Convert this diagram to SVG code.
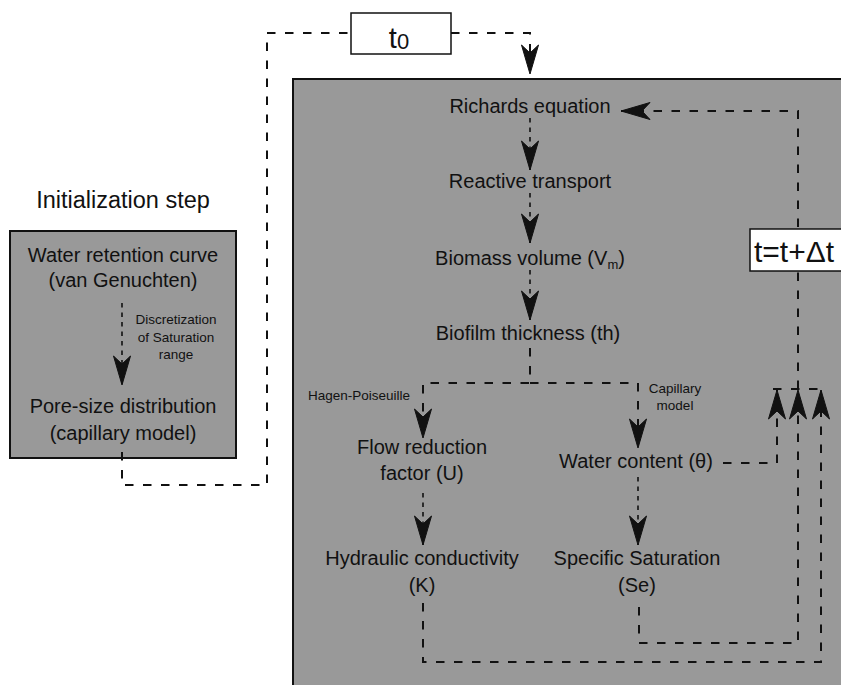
<svg xmlns="http://www.w3.org/2000/svg" width="841" height="685" viewBox="0 0 841 685">
<defs>
<style>
text{font-family:"Liberation Sans",Arial,sans-serif;fill:#111;}
.n{font-size:20px;text-anchor:middle;}
.s{font-size:13.5px;text-anchor:middle;}
.panel{fill:#999999;stroke:#111;stroke-width:2;}
.tbox{fill:#ffffff;stroke:#111;stroke-width:1.5;}
.c{fill:none;stroke:#111;stroke-width:2;stroke-dasharray:8.5 9.5;}
.cs{fill:none;stroke:#111;stroke-width:1.6;stroke-dasharray:4.5 5;}
</style>
<marker id="ah" viewBox="-30 -10 31 20" markerWidth="31" markerHeight="20" refX="0" refY="0" orient="auto" markerUnits="userSpaceOnUse">
<path d="M0,0 L-29,-8.5 L-21,0 L-29,8.5 Z" fill="#111" stroke="#111" stroke-width="1" stroke-linejoin="round"/>
</marker>
</defs>

<g id="main-panel"><rect class="panel" x="293" y="79" width="560" height="620"/></g>
<g id="init-panel"><rect class="panel" x="10" y="231" width="226" height="227"/></g>
<text x="123" y="208" style="font-size:23.5px;text-anchor:middle">Initialization step</text>

<g id="connectors">
<path class="c" d="M122,452 V485 H267 V33 H351"/>
<path class="c" d="M451,33 H530 V74" marker-end="url(#ah)"/>
<path class="cs" d="M122,303 V385" marker-end="url(#ah)"/>
<path class="cs" d="M530,118 V170" marker-end="url(#ah)"/>
<path class="cs" d="M530,193 V243" marker-end="url(#ah)"/>
<path class="cs" d="M530,270 V320" marker-end="url(#ah)"/>
<path class="c" d="M530,348 V383 H423 V438" marker-end="url(#ah)"/>
<path class="c" d="M530,383 H638 V448" marker-end="url(#ah)"/>
<path class="cs" d="M423,493 V545" marker-end="url(#ah)"/>
<path class="cs" d="M638,477 V545" marker-end="url(#ah)"/>
<path class="c" d="M723,463 H777 V390" marker-end="url(#ah)"/>
<path class="c" d="M639,607 V643 H798 V390" marker-end="url(#ah)"/>
<path class="c" d="M423,603 V662 H821 V390" marker-end="url(#ah)"/>
<path class="c" d="M773,389 H826"/>
<path class="c" d="M798,389 V111 H621" marker-end="url(#ah)"/>
</g>

<g id="t0"><rect class="tbox" x="351" y="13" width="100" height="41"/><text x="399" y="48" style="font-size:29px;text-anchor:middle">t<tspan dy="1" style="font-size:22px">0</tspan></text></g>
<g id="dt"><rect class="tbox" x="750" y="229" width="100" height="42"/><text x="754" y="262" style="font-size:30px">t=t+Δt</text></g>

<g id="water-retention"><text class="n" x="123" y="262">Water retention curve</text><text class="n" x="123" y="287">(van Genuchten)</text></g>
<g id="discretization-label"><text class="s" x="176" y="324">Discretization</text><text class="s" x="176" y="342">of Saturation</text><text class="s" x="176" y="359">range</text></g>
<g id="pore-size"><text class="n" x="123" y="413">Pore-size distribution</text><text class="n" x="123" y="440">(capillary model)</text></g>

<g id="richards"><text class="n" x="530" y="113">Richards equation</text></g>
<g id="reactive"><text class="n" x="530" y="188">Reactive transport</text></g>
<g id="biomass"><text class="n" x="530" y="265">Biomass volume (V<tspan dy="4" style="font-size:13px">m</tspan><tspan dy="-4">)</tspan></text></g>
<g id="biofilm"><text class="n" x="528" y="340">Biofilm thickness (th)</text></g>
<g id="hagen-label"><text class="s" x="359" y="400">Hagen-Poiseuille</text></g>
<g id="capillary-label"><text class="s" x="675" y="393">Capillary</text><text class="s" x="675" y="410">model</text></g>
<g id="flow-reduction"><text class="n" x="422" y="454">Flow reduction</text><text class="n" x="422" y="480">factor (U)</text></g>
<g id="water-content"><text class="n" x="636" y="468">Water content (θ)</text></g>
<g id="hydraulic"><text class="n" x="422" y="565">Hydraulic conductivity</text><text class="n" x="422" y="592">(K)</text></g>
<g id="saturation"><text class="n" x="637" y="565">Specific Saturation</text><text class="n" x="637" y="592">(Se)</text></g>
</svg>
